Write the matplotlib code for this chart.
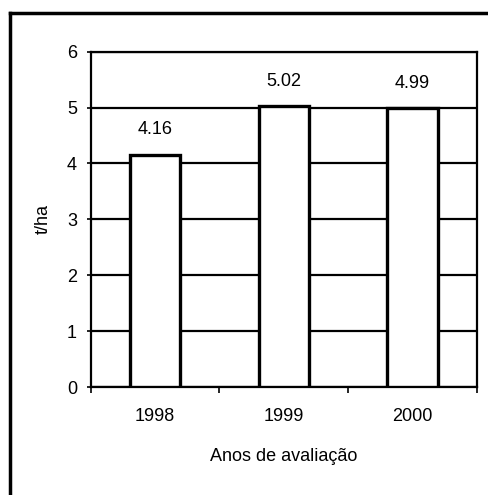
import matplotlib
matplotlib.use("Agg")
import matplotlib.pyplot as plt
import numpy as np

# dados
anos = ["1998", "1999", "2000"]
producao = [4.16, 5.02, 4.99]
rotulos = ["4.16", "5.02", "4.99"]

plt.rcParams['font.family'] = ['Liberation Sans', 'DejaVu Sans']
fs = 13

fig = plt.figure(figsize=(4.88, 4.95), dpi=100)
ax = fig.add_axes([0.186, 0.218, 0.791, 0.6776])

x = np.arange(len(anos))
ax.bar(x, producao, width=0.39, color="white", edgecolor="black", linewidth=2.4, zorder=3)

for xi, v, txt in zip(x, producao, rotulos):
    ax.annotate(txt, (xi, v), xytext=(0, 18), textcoords="offset points",
                ha="center", va="center", fontsize=fs)

ax.set_xlim(-0.5, 2.5)
ax.set_ylim(0, 6)
ax.set_yticks(range(0, 7))
ax.yaxis.grid(True, color="black", linewidth=1.6)
ax.set_axisbelow(True)

# ticks do eixo x nas divisas entre categorias
ax.set_xticks([-0.5, 0.5, 1.5, 2.5])
ax.set_xticklabels([])
ax.set_xticks(x, minor=True)
ax.set_xticklabels(anos, minor=True, fontsize=fs)
ax.tick_params(axis="x", which="major", direction="out", length=4, width=1.2)
ax.tick_params(axis="x", which="minor", length=0, pad=15)
ax.tick_params(axis="y", direction="out", length=3, width=1.2, pad=7, labelsize=fs)

for s in ax.spines.values():
    s.set_linewidth(1.6)
    s.set_color("black")

ax.set_ylabel("t/ha", fontsize=fs, va="center")
ax.yaxis.set_label_coords(-0.1236, 0.5)
ax.set_xlabel("Anos de avaliação", fontsize=fs, va="center")
ax.xaxis.set_label_coords(0.5, -0.208)

# moldura externa (so esquerda e topo aparecem na imagem)
fig.add_artist(plt.Line2D([10/488, 10/488], [0, 1 - 13/495], color="black", linewidth=2.5,
                          transform=fig.transFigure))
fig.add_artist(plt.Line2D([10/488, 1], [1 - 13/495, 1 - 13/495], color="black", linewidth=2.5,
                          transform=fig.transFigure))

fig.savefig("out.png", dpi=100)
